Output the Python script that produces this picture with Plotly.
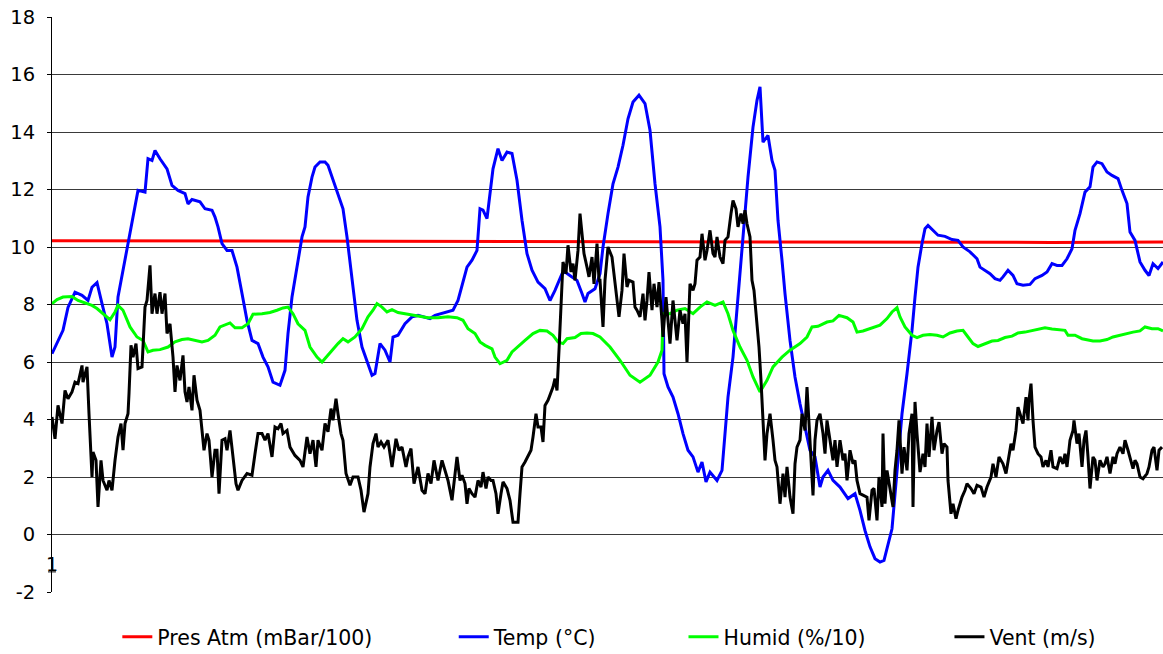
import plotly.graph_objects as go

# numero du releve (axe des categories, 1 a 1112) et valeurs lues
idx_pres = [1, 150, 300, 450, 600, 750, 900, 1000, 1112]
pres = [10.22, 10.21, 10.2, 10.19, 10.18, 10.16, 10.15, 10.16, 10.17]

idx_temp = [1, 6, 12, 17, 24, 31, 37, 41, 46, 51, 56, 61, 64, 67, 72, 77, 82, 87, 94, 97,
            101, 104, 109, 116, 121, 127, 134, 137, 141, 149, 154, 161, 164, 167, 171, 176, 181, 186, 191, 196,
            201, 207, 212, 217, 222, 229, 234, 237, 241, 246, 251, 254, 257, 261, 264, 269, 274, 277, 281, 286,
            292, 296, 301, 306, 311, 316, 321, 324, 329, 334, 339, 342, 347, 354, 361, 367, 374, 379, 384, 391,
            396, 402, 407, 412, 416, 421, 426, 429, 432, 436, 439, 442, 447, 451, 456, 461, 466, 471, 476, 481,
            487, 494, 499, 504, 511, 514, 521, 526, 531, 534, 537, 544, 549, 552, 557, 562, 567, 572, 577, 582,
            588, 594, 599, 604, 609, 612, 613, 617, 622, 627, 632, 637, 642, 647, 651, 655, 659, 666, 671, 674,
            677, 682, 687, 692, 697, 702, 706, 709, 712, 717, 721, 724, 727, 731, 734, 739, 744, 749, 754, 759,
            764, 769, 772, 777, 782, 789, 797, 804, 809, 814, 819, 824, 829, 833, 841, 846, 851, 856, 861, 864,
            867, 871, 874, 877, 882, 887, 894, 901, 907, 912, 919, 926, 929, 934, 939, 944, 949, 952, 957, 962,
            966, 972, 979, 984, 991, 996, 1001, 1006, 1011, 1016, 1021, 1024, 1029, 1034, 1039, 1042, 1046, 1051, 1056, 1061,
            1067, 1071, 1076, 1079, 1084, 1089, 1094, 1098, 1102, 1107, 1112]
temp = [6.29, 6.64, 7.1, 7.9, 8.43, 8.32, 8.14, 8.6, 8.76, 8.03, 7.33, 6.17, 6.52, 8.26, 9.19, 10.23, 11.16, 11.97, 11.91, 13.07,
        13.01, 13.36, 13.07, 12.72, 12.14, 11.97, 11.86, 11.5, 11.65, 11.57, 11.33, 11.28, 11.04, 10.7, 10.12, 9.88, 9.88, 9.3, 8.38, 7.45,
        6.75, 6.64, 6.17, 5.83, 5.3, 5.19, 5.71, 6.99, 8.26, 9.3, 10.35, 10.7, 11.74, 12.43, 12.78, 12.96, 12.96, 12.84, 12.43, 11.91,
        11.33, 10.35, 8.84, 7.45, 6.52, 6.06, 5.54, 5.6, 6.64, 6.41, 6.0, 6.87, 6.93, 7.33, 7.57, 7.62, 7.57, 7.51, 7.62, 7.68,
        7.74, 7.8, 8.14, 8.84, 9.3, 9.54, 9.88, 11.33, 11.28, 10.99, 11.86, 12.72, 13.42, 13.01, 13.3, 13.25, 12.32, 10.93, 9.77, 9.19,
        8.78, 8.55, 8.14, 8.49, 9.07, 9.13, 8.96, 8.84, 8.38, 8.09, 8.38, 8.55, 9.07, 10.0, 11.16, 12.2, 12.78, 13.54, 14.46, 15.04,
        15.28, 14.99, 14.06, 12.2, 10.7, 8.84, 5.59, 5.13, 4.78, 4.2, 3.51, 2.93, 2.7, 2.17, 2.52, 1.83, 2.17, 1.88, 2.23, 3.39,
        4.78, 6.17, 8.26, 10.23, 12.43, 14.17, 15.1, 15.57, 13.65, 13.88, 13.01, 12.67, 10.93, 9.54, 8.38, 6.75, 5.48, 4.55, 3.74, 2.93,
        2.7, 1.65, 2.0, 2.23, 1.88, 1.65, 1.25, 1.42, 0.84, 0.14, -0.43, -0.84, -0.96, -0.9, 0.2, 2.12, 4.2, 5.59, 7.1, 8.26,
        9.3, 10.12, 10.64, 10.75, 10.58, 10.41, 10.37, 10.26, 10.23, 10.0, 9.83, 9.59, 9.3, 9.19, 9.07, 8.9, 8.84, 8.96, 9.19, 9.01,
        8.72, 8.67, 8.7, 8.9, 9.01, 9.13, 9.42, 9.36, 9.36, 9.59, 9.94, 10.58, 11.16, 11.91, 12.09, 12.78, 12.96, 12.9, 12.61, 12.49,
        12.38, 11.97, 11.51, 10.52, 10.23, 9.48, 9.19, 9.01, 9.42, 9.25, 9.48]

idx_humid = [1, 6, 12, 21, 27, 34, 41, 46, 52, 59, 64, 67, 72, 79, 86, 92, 97, 102, 109, 117,
             124, 131, 137, 144, 151, 157, 164, 169, 174, 179, 184, 191, 197, 202, 211, 219, 226, 232, 237, 242,
             247, 254, 259, 266, 271, 274, 281, 287, 292, 297, 304, 311, 317, 322, 326, 331, 336, 341, 347, 357,
             367, 377, 387, 397, 406, 412, 417, 424, 429, 434, 441, 444, 449, 456, 461, 467, 474, 482, 489, 496,
             502, 507, 512, 516, 524, 530, 536, 542, 549, 559, 569, 579, 589, 599, 607, 611, 612, 619, 626, 634,
             642, 649, 656, 664, 672, 677, 682, 689, 696, 702, 709, 716, 722, 731, 739, 749, 756, 761, 767, 776,
             782, 788, 796, 802, 806, 812, 821, 829, 836, 841, 846, 849, 854, 861, 866, 872, 879, 886, 892, 899,
             906, 912, 917, 922, 927, 934, 941, 947, 954, 961, 967, 974, 981, 987, 994, 1001, 1007, 1014, 1017, 1024,
             1031, 1037, 1042, 1049, 1056, 1062, 1069, 1076, 1082, 1089, 1094, 1101, 1107, 1112]
humid = [8.03, 8.17, 8.26, 8.28, 8.14, 8.05, 7.97, 7.86, 7.68, 7.47, 7.74, 7.97, 7.8, 7.22, 6.87, 6.75, 6.35, 6.41, 6.43, 6.52,
         6.7, 6.78, 6.81, 6.75, 6.7, 6.75, 6.93, 7.22, 7.28, 7.36, 7.19, 7.19, 7.33, 7.66, 7.68, 7.72, 7.8, 7.88, 7.91, 7.68,
         7.33, 7.1, 6.52, 6.17, 6.0, 6.12, 6.41, 6.64, 6.81, 6.7, 6.87, 7.16, 7.57, 7.8, 8.03, 7.91, 7.74, 7.82, 7.72, 7.66,
         7.6, 7.54, 7.54, 7.57, 7.54, 7.45, 7.16, 6.99, 6.7, 6.58, 6.46, 6.17, 5.94, 6.06, 6.35, 6.52, 6.75, 6.99, 7.1, 7.08,
         6.93, 6.7, 6.64, 6.81, 6.85, 6.99, 7.01, 6.99, 6.87, 6.52, 6.06, 5.54, 5.3, 5.54, 6.0, 6.41, 7.68, 7.68, 7.8, 7.86,
         7.68, 7.91, 8.09, 7.97, 8.09, 7.68, 7.1, 6.52, 6.06, 5.48, 4.96, 5.36, 5.83, 6.17, 6.41, 6.64, 6.87, 7.22, 7.24, 7.39,
         7.43, 7.62, 7.54, 7.39, 7.04, 7.08, 7.19, 7.28, 7.51, 7.74, 7.89, 7.57, 7.22, 6.93, 6.85, 6.93, 6.96, 6.93, 6.87, 7.01,
         7.08, 7.1, 6.87, 6.64, 6.54, 6.64, 6.73, 6.75, 6.85, 6.9, 7.01, 7.04, 7.1, 7.15, 7.19, 7.15, 7.12, 7.1, 6.93, 6.93,
         6.81, 6.78, 6.73, 6.73, 6.78, 6.87, 6.93, 7.01, 7.04, 7.08, 7.22, 7.16, 7.16, 7.08]

idx_vent = [1, 4, 7, 11, 14, 17, 21, 24, 27, 31, 32, 36, 38, 41, 42, 45, 47, 50, 52, 56,
            58, 61, 64, 67, 70, 72, 74, 77, 78, 80, 82, 85, 87, 91, 94, 96, 99, 101, 104, 106,
            109, 111, 114, 116, 119, 122, 124, 126, 129, 132, 134, 136, 138, 141, 143, 146, 149, 153, 156, 158,
            161, 164, 166, 168, 171, 174, 176, 179, 182, 185, 187, 191, 196, 201, 204, 207, 211, 214, 217, 221,
            224, 227, 230, 232, 236, 239, 244, 249, 252, 256, 259, 262, 265, 267, 271, 274, 277, 280, 282, 285,
            287, 290, 292, 295, 299, 302, 307, 310, 313, 317, 319, 322, 325, 327, 330, 333, 337, 341, 345, 348,
            351, 355, 357, 360, 363, 367, 371, 374, 377, 380, 383, 387, 391, 394, 397, 401, 404, 406, 409, 411,
            414, 416, 418, 421, 424, 427, 430, 432, 435, 437, 440, 442, 445, 447, 450, 452, 456, 459, 462, 467,
            469, 471, 474, 477, 480, 482, 485, 487, 490, 492, 494, 497, 499, 502, 504, 506, 508, 510, 512, 515,
            517, 520, 522, 524, 527, 529, 531, 533, 536, 538, 541, 543, 546, 548, 549, 552, 554, 557, 561, 563,
            566, 568, 571, 573, 576, 578, 582, 584, 586, 589, 592, 594, 596, 598, 601, 603, 606, 608, 611, 612,
            615, 617, 619, 622, 624, 626, 629, 632, 634, 636, 639, 642, 644, 646, 649, 651, 654, 656, 659, 662,
            664, 666, 669, 672, 674, 677, 680, 682, 685, 687, 690, 692, 694, 696, 699, 701, 703, 706, 708, 710,
            712, 714, 716, 719, 722, 724, 726, 729, 732, 734, 736, 739, 742, 744, 746, 749, 751, 754, 756, 759,
            762, 764, 766, 769, 772, 774, 776, 779, 782, 784, 786, 789, 792, 794, 796, 799, 802, 804, 806, 809,
            812, 816, 818, 821, 823, 826, 828, 831, 832, 834, 836, 839, 842, 844, 846, 848, 851, 853, 856, 858,
            861, 862, 864, 866, 869, 872, 874, 876, 878, 881, 883, 886, 888, 891, 893, 896, 897, 900, 902, 905,
            907, 911, 914, 916, 920, 923, 926, 930, 933, 936, 940, 942, 945, 948, 952, 955, 957, 960, 962, 965,
            967, 970, 972, 975, 977, 978, 980, 982, 984, 987, 990, 992, 995, 997, 1000, 1002, 1006, 1009, 1012, 1014,
            1016, 1019, 1022, 1023, 1026, 1028, 1031, 1033, 1035, 1037, 1039, 1042, 1044, 1046, 1049, 1052, 1054, 1056, 1059, 1062,
            1064, 1066, 1069, 1072, 1074, 1077, 1079, 1082, 1084, 1086, 1089, 1092, 1096, 1098, 1101, 1103, 1106, 1108, 1111]
vent = [4.09, 3.33, 4.49, 3.86, 5.01, 4.72, 4.96, 5.3, 5.25, 5.88, 5.3, 5.83, 4.2, 2.0, 2.87, 2.58, 0.96, 2.58, 1.88, 1.54,
        1.88, 1.54, 2.58, 3.39, 3.86, 2.93, 3.86, 4.2, 4.9, 6.58, 6.17, 6.64, 5.77, 5.83, 7.91, 8.14, 9.36, 7.68, 8.38, 7.68,
        8.43, 7.68, 8.38, 6.99, 7.33, 6.17, 4.96, 5.88, 5.36, 6.23, 4.96, 4.61, 5.13, 4.32, 5.54, 4.67, 4.32, 2.93, 3.51, 3.28,
        2.0, 2.93, 2.93, 1.42, 3.28, 3.33, 2.93, 3.62, 2.7, 1.77, 1.54, 1.88, 2.12, 2.06, 2.81, 3.51, 3.51, 3.28, 3.51, 2.7,
        3.74, 3.68, 3.86, 3.51, 3.62, 3.04, 2.75, 2.58, 2.35, 3.39, 2.81, 3.28, 2.35, 3.28, 2.93, 3.86, 3.57, 4.38, 3.97, 4.72,
        4.2, 3.51, 3.28, 2.12, 1.71, 2.0, 2.0, 1.54, 0.78, 1.42, 2.35, 3.16, 3.51, 3.04, 3.22, 3.04, 3.28, 2.35, 3.33, 2.93,
        3.04, 2.35, 2.7, 2.99, 1.77, 2.35, 1.54, 1.42, 2.12, 1.77, 2.58, 1.88, 2.58, 2.23, 1.88, 1.19, 2.12, 2.7, 1.88, 2.06,
        1.77, 1.07, 1.6, 1.42, 1.3, 1.88, 1.65, 2.17, 1.6, 2.0, 1.88, 1.88, 1.42, 0.72, 1.42, 1.83, 1.6, 1.19, 0.43, 0.43,
        1.42, 2.35, 2.52, 2.75, 2.93, 3.39, 4.2, 3.74, 3.74, 3.22, 4.49, 4.67, 4.84, 5.13, 5.42, 5.01, 6.41, 8.26, 9.48, 9.07,
        10.06, 9.13, 9.42, 8.84, 9.88, 11.16, 10.35, 9.77, 9.3, 8.96, 9.65, 8.72, 10.12, 8.84, 8.84, 7.22, 8.84, 10.0, 9.65, 9.07,
        8.03, 7.57, 8.49, 9.77, 8.61, 8.84, 8.78, 7.91, 7.8, 7.57, 8.38, 7.45, 8.14, 9.13, 7.8, 8.72, 7.91, 8.78, 7.45, 6.87,
        8.26, 7.45, 6.64, 8.14, 7.45, 6.75, 7.8, 7.33, 7.68, 6.0, 8.72, 8.49, 8.72, 9.54, 9.65, 10.46, 9.54, 9.88, 10.58, 9.77,
        9.65, 10.35, 9.65, 9.42, 10.23, 10.35, 11.16, 11.62, 11.33, 10.7, 11.16, 10.81, 11.28, 10.81, 10.35, 8.84, 8.49, 7.45, 6.52, 5.36,
        3.97, 2.58, 3.51, 4.2, 3.28, 2.58, 2.35, 1.07, 2.12, 1.3, 2.35, 1.3, 0.72, 2.46, 3.04, 3.28, 4.2, 3.62, 5.13, 3.04,
        1.36, 3.28, 3.97, 4.2, 3.51, 2.81, 3.97, 3.28, 2.58, 3.28, 2.35, 3.28, 2.58, 2.81, 1.88, 2.93, 2.46, 2.58, 1.88, 1.42,
        1.36, 1.3, 0.49, 1.54, 1.6, 0.49, 2.0, 0.96, 3.51, 1.07, 2.23, 1.65, 0.96, 2.23, 2.93, 3.97, 2.12, 3.04, 2.23, 3.51,
        4.2, 0.96, 4.61, 3.51, 2.17, 2.81, 2.35, 3.86, 2.7, 4.09, 2.93, 3.62, 3.91, 2.81, 3.16, 3.04, 1.88, 0.72, 1.07, 0.55,
        0.84, 1.3, 1.54, 1.77, 1.6, 1.42, 1.71, 1.65, 1.3, 1.65, 2.0, 2.46, 2.0, 2.7, 2.46, 2.12, 2.58, 3.16, 2.93, 3.62,
        4.43, 4.09, 3.86, 4.78, 3.97, 4.67, 5.25, 3.97, 3.04, 2.81, 2.7, 2.35, 2.58, 2.35, 2.93, 2.35, 2.29, 2.7, 2.46, 2.81,
        2.35, 3.28, 3.62, 3.97, 3.16, 3.51, 2.35, 3.28, 3.62, 2.7, 1.6, 2.7, 2.58, 1.88, 2.58, 2.35, 2.46, 2.7, 2.12, 2.7,
        2.46, 2.81, 3.04, 2.81, 3.28, 2.93, 2.7, 2.29, 2.58, 2.46, 2.0, 1.94, 2.12, 2.35, 2.93, 3.04, 2.23, 2.93, 3.04]

# graduations de l'axe vertical (tiret simple comme dans Excel)
y_ticks = [-2, 0, 2, 4, 6, 8, 10, 12, 14, 16, 18]
y_labels = ["-2", "0", "2", "4", "6", "8", "10", "12", "14", "16", "18"]

noms = ["Pres Atm (mBar/100)", "Temp (°C)", "Humid (%/10)", "Vent (m/s)"]
couleurs = ["#ff0000", "#0000ff", "#00ff00", "#000000"]

police = "DejaVu Sans, Verdana, sans-serif"

fig = go.Figure()
series = [(idx_pres, pres), (idx_temp, temp), (idx_humid, humid), (idx_vent, vent)]
legendes = ["legend", "legend2", "legend3", "legend4"]
for (xs, ys), nom, coul, leg in zip(series, noms, couleurs, legendes):
    fig.add_trace(go.Scatter(x=xs, y=ys, mode="lines", name=nom, legend=leg,
                             line=dict(color=coul, width=3)))

# une legende par serie pour garder l'espacement d'Excel
def legende(x):
    return dict(orientation="h", x=x, xanchor="left", y=-0.078, yanchor="middle",
                font=dict(family=police, size=20.5, color="#000000"),
                bgcolor="rgba(0,0,0,0)", borderwidth=0, itemwidth=30)

fig.update_layout(
    width=1163, height=654,
    margin=dict(l=52, r=0, t=17, b=62, autoexpand=False),
    paper_bgcolor="white", plot_bgcolor="white",
    font=dict(family=police, size=19, color="#000000"),
    showlegend=True,
    legend=legende(0.0588),
    legend2=legende(0.3616),
    legend3=legende(0.5684),
    legend4=legende(0.8078),
    xaxis=dict(range=[1, 1112], showgrid=False, zeroline=False, showticklabels=False,
               showline=False, ticks=""),
    yaxis=dict(range=[-2, 18], tickmode="array", tickvals=y_ticks, ticktext=y_labels,
               showgrid=True, gridcolor="#3a3a3a", gridwidth=1,
               zeroline=False, showline=True, linecolor="#000000", linewidth=1,
               ticks="outside", ticklen=4, tickcolor="#000000", ticklabelstandoff=8,
               ticklabeloverflow="allow",
               tickfont=dict(family=police, size=19.5, color="#000000")),
)

# etiquette de categorie "1" et sa graduation
fig.add_annotation(x=1, y=-1.03, text="1", showarrow=False, xanchor="center", yanchor="middle",
                   font=dict(family=police, size=19, color="#000000"))
fig.add_shape(type="line", xref="paper", yref="y", x0=-0.0036, x1=0.0036, y0=-1.3, y1=-1.3,
              line=dict(color="#000000", width=1))

# pas de marge de page autour du graphique, pas de barre d'outils
fig.write_html("out.html", config={"displayModeBar": False},
               post_script="document.body.style.margin='0';")
